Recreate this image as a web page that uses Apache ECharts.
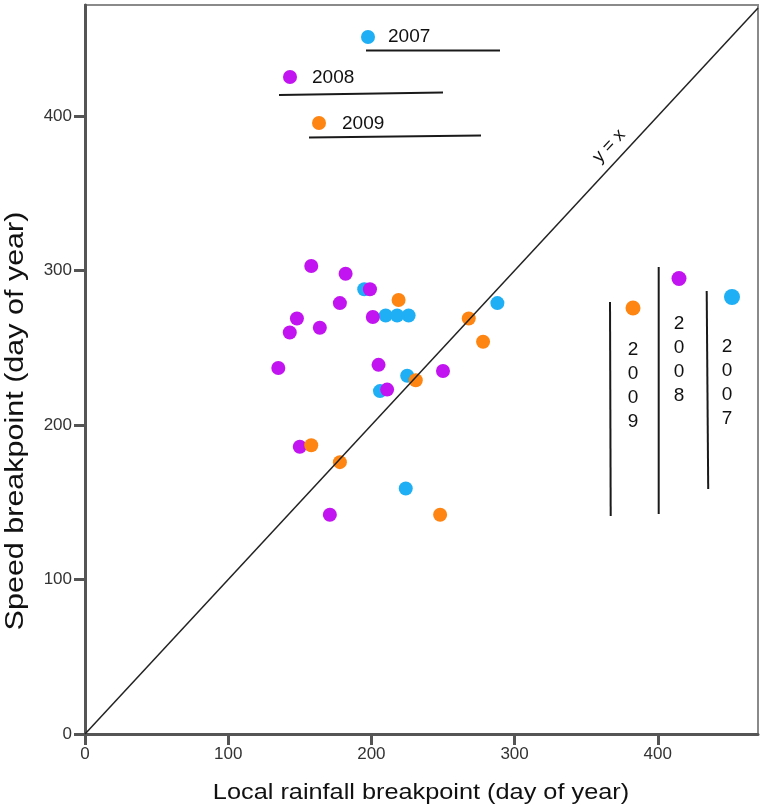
<!DOCTYPE html>
<html><head><meta charset="utf-8">
<script src="https://cdn.jsdelivr.net/npm/echarts@6/dist/echarts.min.js"></script>
<style>html,body{margin:0;padding:0;background:#fff}#c{width:766px;height:812px}</style>
</head><body><div id="c"></div>
<script>
// ---- data (day of year) ----
const years = ['2007', '2008', '2009'];
const rain2007  = [195, 210, 218, 226, 288, 225, 206, 224];
const speed2007 = [288, 271, 271, 271, 279, 232, 222, 159];
const rain2008  = [158, 182, 199, 178, 148, 143, 164, 201, 135, 205, 211, 150, 171, 250];
const speed2008 = [303, 298, 288, 279, 269, 260, 263, 270, 237, 239, 223, 186, 142, 235];
const rain2009  = [219, 268, 278, 231, 158, 178, 248];
const speed2009 = [281, 269, 254, 229, 187, 176, 142];
const identity = [0, 470];
const xTicks = [0, 100, 200, 300, 400];
const yTicks = [0, 100, 200, 300, 400];
const xTitle = 'Local rainfall breakpoint (day of year)';
const yTitle = 'Speed breakpoint (day of year)';

const colors = { '2007': '#1FAFF5', '2008': '#C214F0', '2009': '#FF8512' };
const pairs = (xs, ys) => xs.map((x, i) => [x, ys[i]]);

const FONT = '"Liberation Sans", Arial, sans-serif';
const chart = echarts.init(document.getElementById('c'), null, { renderer: 'canvas' });

const lineStyle = { stroke: '#1a1a1a', lineWidth: 2 };
const txt = (s, size) => ({ text: s, font: size + 'px ' + FONT, fill: '#111' });
const graphic = [
  // top legend-like annotations
  { type: 'circle', shape: { cx: 368, cy: 37, r: 7 }, style: { fill: colors['2007'] } },
  { type: 'text', x: 388, y: 37, style: Object.assign(txt(years[0], 19), { textVerticalAlign: 'middle' }) },
  { type: 'line', shape: { x1: 366, y1: 50.5, x2: 500, y2: 50.5 }, style: lineStyle },
  { type: 'circle', shape: { cx: 290, cy: 77, r: 7 }, style: { fill: colors['2008'] } },
  { type: 'text', x: 312, y: 78, style: Object.assign(txt(years[1], 19), { textVerticalAlign: 'middle' }) },
  { type: 'line', shape: { x1: 279, y1: 95, x2: 443, y2: 92.5 }, style: lineStyle },
  { type: 'circle', shape: { cx: 319, cy: 123, r: 7 }, style: { fill: colors['2009'] } },
  { type: 'text', x: 342, y: 123.5, style: Object.assign(txt(years[2], 19), { textVerticalAlign: 'middle' }) },
  { type: 'line', shape: { x1: 309, y1: 137.5, x2: 481, y2: 135.5 }, style: lineStyle },
  // right vertical annotations
  { type: 'circle', shape: { cx: 633, cy: 308, r: 7.5 }, style: { fill: colors['2009'] } },
  { type: 'text', x: 633, y: 386, style: Object.assign(txt(years[2].split('').join('\n'), 19), { lineHeight: 24, textAlign: 'center', textVerticalAlign: 'middle' }) },
  { type: 'line', shape: { x1: 610, y1: 302, x2: 610.7, y2: 516 }, style: lineStyle },
  { type: 'circle', shape: { cx: 679, cy: 278.5, r: 7.5 }, style: { fill: colors['2008'] } },
  { type: 'text', x: 679, y: 360, style: Object.assign(txt(years[1].split('').join('\n'), 19), { lineHeight: 24, textAlign: 'center', textVerticalAlign: 'middle' }) },
  { type: 'line', shape: { x1: 658.7, y1: 267, x2: 658.7, y2: 514 }, style: lineStyle },
  { type: 'circle', shape: { cx: 732, cy: 297, r: 8 }, style: { fill: colors['2007'] } },
  { type: 'text', x: 727, y: 383, style: Object.assign(txt(years[0].split('').join('\n'), 19), { lineHeight: 24, textAlign: 'center', textVerticalAlign: 'middle' }) },
  { type: 'line', shape: { x1: 706.7, y1: 291, x2: 708.2, y2: 489 }, style: lineStyle },
  // y = x label
  { type: 'text', x: 609, y: 146, rotation: 47 * Math.PI / 180,
    style: Object.assign(txt('y = x', 18), { textAlign: 'center', textVerticalAlign: 'middle' }) },
  // axis titles
  { type: 'text', x: 16, y: 421, rotation: Math.PI / 2, scaleX: 1.22,
    style: Object.assign(txt(yTitle, 25), { textAlign: 'center', textVerticalAlign: 'middle' }) },
  { type: 'text', x: 421, y: 793, scaleX: 1.15,
    style: Object.assign(txt(xTitle, 22), { textAlign: 'center', textVerticalAlign: 'middle' }) }
];

const option = {
  animation: false,
  backgroundColor: '#fff',
  grid: { left: 85, right: 8, top: 5, bottom: 78, show: true, borderColor: '#8a8a8a', borderWidth: 2, backgroundColor: 'transparent' },
  xAxis: {
    type: 'value', min: 0, max: 470, interval: 100,
    axisLine: { show: true, onZero: false, lineStyle: { color: '#555', width: 3 } },
    axisTick: { show: true, length: 11, customValues: xTicks, lineStyle: { color: '#555', width: 3 } },
    axisLabel: { fontFamily: FONT, fontSize: 17, color: '#333', margin: 12, customValues: xTicks },
    splitLine: { show: false }
  },
  yAxis: {
    type: 'value', min: 0, max: 472, interval: 100,
    axisLine: { show: true, onZero: false, lineStyle: { color: '#555', width: 3 } },
    axisTick: { show: true, length: 11, customValues: yTicks, lineStyle: { color: '#555', width: 3 } },
    axisLabel: { fontFamily: FONT, fontSize: 17, color: '#333', margin: 13, customValues: yTicks },
    splitLine: { show: false }
  },
  series: [
    { name: years[0], type: 'scatter', symbolSize: 14, z: 2, data: pairs(rain2007, speed2007), itemStyle: { color: colors['2007'], opacity: 1 } },
    { name: years[1], type: 'scatter', symbolSize: 14, z: 3, data: pairs(rain2008, speed2008), itemStyle: { color: colors['2008'], opacity: 1 } },
    { name: years[2], type: 'scatter', symbolSize: 14, z: 4, data: pairs(rain2009, speed2009), itemStyle: { color: colors['2009'], opacity: 1 } },
    { name: 'y = x', type: 'line', z: 5, symbol: 'none', data: identity.map(v => [v, v]),
      lineStyle: { color: '#222', width: 1.5 } }
  ],
  graphic: graphic
};
chart.setOption(option);
</script>
</body></html>
